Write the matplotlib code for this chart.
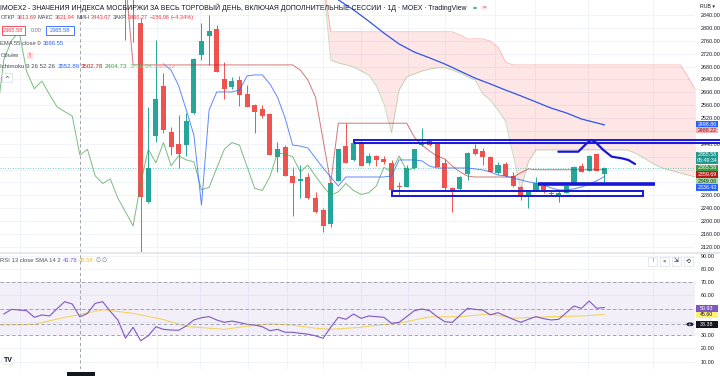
import numpy as np
import matplotlib
matplotlib.use("Agg")
import matplotlib.pyplot as plt
from matplotlib.patches import Rectangle, Circle

plt.rcParams['font.family'] = ['Liberation Sans', 'DejaVu Sans']

W, H = 720, 376

# ---------------- DATA ----------------
bar_index = list(range(-2, 62))
opens = [3000, 2940, 2816, 2258, 2465, 2620, 2478, 2439, 2436, 2535,
         2716, 2776, 2797, 2642, 2617, 2638, 2595, 2561, 2547, 2532,
         2400, 2431, 2341, 2325, 2336, 2271, 2235, 2190, 2326, 2433,
         2390, 2442, 2380, 2403, 2392, 2381, 2309, 2307, 2364, 2436,
         2452, 2440, 2380, 2302, 2299, 2346, 2423, 2418, 2400, 2348,
         2376, 2340, 2306, 2280, 2295, 2309, 2286, 2278, 2288, 2319,
         2371, 2357, 2408, 2346]
highs = [3050, 3000, 2830, 2554, 2762, 2660, 2492, 2530, 2537, 2707,
         2815, 2840, 2809, 2695, 2648, 2651, 2623, 2563, 2561, 2535,
         2447, 2436, 2369, 2374, 2348, 2291, 2241, 2320, 2425, 2504,
         2455, 2449, 2411, 2406, 2402, 2390, 2322, 2374, 2425, 2488,
         2455, 2442, 2392, 2306, 2340, 2415, 2440, 2428, 2402, 2385,
         2385, 2353, 2309, 2294, 2338, 2318, 2292, 2297, 2318, 2371,
         2381, 2405, 2412, 2368]
lows = [2762, 2756, 2080, 2256, 2446, 2474, 2405, 2365, 2402, 2533,
        2700, 2685, 2663, 2579, 2610, 2558, 2554, 2473, 2519, 2404,
        2353, 2340, 2216, 2271, 2270, 2225, 2167, 2183, 2324, 2380,
        2388, 2370, 2375, 2371, 2377, 2296, 2281, 2305, 2362, 2434,
        2434, 2368, 2297, 2229, 2297, 2328, 2405, 2374, 2352, 2346,
        2337, 2306, 2266, 2240, 2294, 2287, 2278, 2260, 2287, 2318,
        2353, 2356, 2356, 2319]
closes = [2950, 2990, 2275, 2366, 2579, 2483, 2430, 2408, 2512, 2702,
          2760, 2789, 2664, 2611, 2635, 2593, 2555, 2540, 2526, 2405,
          2423, 2341, 2317, 2331, 2271, 2229, 2185, 2317, 2423, 2381,
          2444, 2372, 2403, 2390, 2384, 2297, 2305, 2364, 2423, 2444,
          2436, 2369, 2302, 2295, 2338, 2412, 2408, 2400, 2353, 2374,
          2340, 2308, 2280, 2291, 2317, 2295, 2283, 2288, 2309, 2367,
          2353, 2402, 2357, 2365.58]

tenkan_index = list(range(3, 62))
tenkan = [2688, 2669, 2620, 2545, 2467, 2250, 2545, 2601, 2601, 2601,
          2607, 2651, 2654, 2654, 2626, 2585, 2520, 2436, 2433, 2427,
          2396, 2365, 2337, 2309, 2337, 2337, 2337, 2337, 2337, 2337,
          2340, 2390, 2390, 2390, 2387, 2371, 2365, 2365, 2365, 2365,
          2365, 2362, 2359, 2353, 2343, 2340, 2334, 2328, 2322, 2318,
          2312, 2303, 2297, 2297, 2300, 2306, 2315, 2325, 2338.43]

kijun_index = list(range(-2, 62))
kijun = [2950, 2685, 2685, 2685, 2685, 2685, 2685, 2685, 2685, 2685,
         2685, 2685, 2685, 2685, 2685, 2685, 2685, 2685, 2685, 2685,
         2685, 2685, 2685, 2669, 2638, 2585, 2452, 2318, 2504, 2504,
         2504, 2504, 2504, 2504, 2504, 2504, 2504, 2504, 2461, 2436,
         2418, 2402, 2393, 2371, 2353, 2340, 2337, 2337, 2337, 2337,
         2337, 2337, 2350, 2362, 2359.69, 2359.69, 2359.69, 2359.69, 2359.69, 2359.69,
         2359.69, 2359.69, 2359.69, 2359.69]

span_index = list(range(24, 75))
senkou_a = [2950, 2700, 2691, 2685, 2679, 2666, 2654, 2620, 2564, 2474,
            2607, 2648, 2657, 2666, 2672, 2676, 2676, 2669, 2660, 2648,
            2638, 2595, 2576, 2545, 2510, 2405, 2297, 2384, 2421, 2421,
            2421, 2421, 2421, 2421, 2421, 2421, 2421, 2421, 2421, 2421,
            2421, 2412, 2399, 2384, 2371, 2362, 2356, 2349, 2343, 2337,
            2332]
senkou_b = [2950, 2788, 2788, 2788, 2788, 2788, 2788, 2788, 2788, 2788,
            2788, 2788, 2788, 2788, 2788, 2788, 2788, 2788, 2778, 2766,
            2766, 2766, 2759, 2741, 2694, 2685, 2685, 2685, 2685, 2685,
            2685, 2685, 2685, 2685, 2685, 2685, 2685, 2685, 2685, 2685,
            2685, 2685, 2685, 2685, 2685, 2685, 2685, 2685, 2648, 2607,
            2580]
chikou_shift = 25

ema_index = [24, 26, 28, 30, 32, 34, 36, 38, 40, 42, 44, 46, 48, 50, 52, 54, 56, 58, 60, 61]
ema55 = [2933, 2887, 2856, 2821, 2784, 2750, 2725, 2707, 2688, 2666,
         2644, 2626, 2607, 2589, 2570, 2551, 2536, 2517, 2505, 2498.86]

rsi_index = list(range(-18, 62))
rsi = [46, 49.5, 49, 48.5, 43.5, 45.3, 44.5, 50, 55.3, 53.5,
       43.78, 46.5, 54, 55.3, 48, 41.5, 27.7, 36,
       25.8, 29.6, 36.4, 34.4, 33.9, 33.7, 37, 41.5, 43.2, 44,
       41.5, 39.7, 40.7, 39.5, 38.2, 37.7, 36.4, 33.4, 34.4, 32.2,
       32.2, 31.4, 30.8, 29.5, 27.7, 36, 43.5, 42, 46, 42.7,
       44.5, 44, 43.5, 39, 39.7, 44, 48.5, 49.8, 48.5, 44,
       40.2, 39.7, 45, 50.3, 49.5, 49, 45.3, 47, 44.5, 42,
       39.7, 42, 44, 42.5, 41.5, 42, 47, 52, 50.3, 55.8, 50.3, 50.93]
rsi_sma_index = [-19, -14, -10, -8, -5, -1, 3, 6, 11, 14, 17, 20, 23, 25, 29,
                 31, 34, 36, 38, 42, 46, 49, 54, 58, 61]
rsi_sma = [37.6, 38.2, 43.5, 45.58, 49.3, 46.5, 41.8, 36.6, 34.4, 36.8, 38.5,
           37.6, 35.3, 34.4, 36, 37.5, 39, 41.5, 43.8, 44, 46, 42.8, 44, 44.5, 45.6]

price_ticks = [2120, 2160, 2200, 2240, 2280, 2320, 2360, 2400, 2440, 2480,
               2520, 2560, 2600, 2640, 2680, 2720, 2760, 2800, 2840]
hidden_price_ticks = [2320, 2360, 2400, 2480]
rsi_ticks = [10, 20, 30, 40, 50, 60, 70, 80, 90]
hidden_rsi_ticks = [40, 50]
time_grid = [-15.9, 2.1, 7.8, 14.1, 19.3, 24, 29, 35.2, 40, 46.6, 51.9, 58.9, 67.4]
crosshair_bar = -8
crosshair_rsi = 38.38

# ---------------- FIGURE ----------------
UP, DOWN = '#26a69a', '#ef5350'
BLUE_DRAW = '#1717d6'
TXT = '#131722'
GRID = '#f0f3fa'

fig = plt.figure(figsize=(W / 100, H / 100), dpi=100)
fig.patch.set_facecolor('white')
ax = fig.add_axes([0, 1 - 252 / H, 695 / W, 252 / H])
ax2 = fig.add_axes([0, 1 - 369 / H, 695 / W, (369 - 253) / H])
XMIN, XMAX = -18.51, 72.93

for a in (ax, ax2):
    a.set_xlim(XMIN, XMAX)
    a.set_facecolor('white')
    for s in a.spines.values():
        s.set_visible(False)
    a.set_xticks([])
    a.yaxis.tick_right()
    a.tick_params(axis='y', length=0, pad=4, labelsize=3.9, labelcolor=TXT)
    for g in time_grid:
        a.axvline(g, color=GRID, lw=0.7, zorder=0)
    a.axvline(crosshair_bar, color='#9598a1', lw=0.6, ls=(0, (4, 3)), zorder=6)

ax.set_ylim(2104.1, 2886.6)
ax.set_yticks(price_ticks)
ax.set_yticklabels(['' if t in hidden_price_ticks else f'{t:.2f}' for t in price_ticks])
for t in price_ticks:
    ax.axhline(t, color=GRID, lw=0.7, zorder=0)

# cloud
ax.fill_between(span_index, senkou_a, senkou_b, color='#f44336', alpha=0.13, lw=0, zorder=1)
ax.plot(span_index, senkou_a, color='#43a047', alpha=0.35, lw=0.6, zorder=1.5)
ax.plot(span_index, senkou_b, color='#f44336', alpha=0.35, lw=0.6, zorder=1.5)

# candles
cols = [UP if c >= o else DOWN for o, c in zip(opens, closes)]
ax.vlines(bar_index, lows, highs, colors=cols, lw=0.7, zorder=3)
body_h = [max(abs(c - o), 2.5) for o, c in zip(opens, closes)]
body_b = [min(o, c) for o, c in zip(opens, closes)]
ax.bar(bar_index, body_h, bottom=body_b, width=0.68, color=cols, lw=0, zorder=3.1)

# indicator lines
chikou_x = [b - chikou_shift for b in bar_index]
ax.plot(chikou_x, closes, color='#43a047', alpha=0.7, lw=0.7, zorder=3.5)
ax.plot(kijun_index, kijun, color='#b71c1c', alpha=0.6, lw=0.7, zorder=3.5)
ax.plot(tenkan_index, tenkan, color='#2962ff', alpha=0.75, lw=0.7, zorder=3.5)
ax.plot(ema_index, ema55, color='#2f54eb', lw=0.9, zorder=3.6)
ax.axhline(closes[-1], color='#26a69a', lw=0.6, ls=(0, (1, 2)), alpha=0.8, zorder=2.5)

# user drawings
ax.add_patch(Rectangle((28.1, 2442.5), 76.5 - 28.1, 9.4, fc='none', ec=BLUE_DRAW,
                       lw=1.4, clip_on=False, zorder=5))
ax.add_patch(Rectangle((33.0, 2278.0), 33.1, 16.5, fc='none', ec=BLUE_DRAW, lw=1.4, zorder=5))
ax.plot([52.3, 67.7], [2314.4, 2314.4], color=BLUE_DRAW, lw=2.6, solid_capstyle='butt', zorder=5)
path_x = [54.95, 57.58, 58.68, 59.25, 59.78, 60.87, 61.97, 63.29, 64.16, 65.04]
path_y = [2415.6, 2415.6, 2441.6, 2451.9, 2446.6, 2420.9, 2400.1, 2395.1, 2389.8, 2377.4]
ax.plot(path_x, path_y, color=BLUE_DRAW, lw=1.6, zorder=5, solid_capstyle='round')

# RSI pane
ax2.set_ylim(4.49, 92.04)
ax2.set_yticks(rsi_ticks)
ax2.set_yticklabels(['' if t in hidden_rsi_ticks else f'{t:.2f}' for t in rsi_ticks])
for t in rsi_ticks:
    ax2.axhline(t, color=GRID, lw=0.7, zorder=0)
ax2.axhspan(30, 70, color='#7e57c2', alpha=0.09, lw=0, zorder=0.5)
for lv in (70, 50, 30):
    ax2.axhline(lv, color='#9598a1', lw=0.6, ls=(0, (4, 3)), zorder=1)
ax2.axhline(crosshair_rsi, color='#9598a1', lw=0.6, ls=(0, (4, 3)), zorder=6)
ax2.plot(rsi_sma_index, rsi_sma, color='#f3cf45', lw=0.8, alpha=0.85, zorder=2)
ax2.plot(rsi_index, rsi, color='#7e57c2', lw=0.8, zorder=3)

# pane separators
fig.add_artist(plt.Line2D([0, 1], [1 - 252.5 / H] * 2, transform=fig.transFigure,
                          color='#e0e3eb', lw=1.2))

# ---------------- TEXT / UI ----------------
fig.canvas.draw()
R = fig.canvas.get_renderer()


def txt(x, y, s, size, color=TXT, ha='left', **kw):
    return fig.text(x / W, 1 - y / H, s, fontsize=size, color=color, ha=ha, va='center', **kw)


def width_of(s, size, **kw):
    t = fig.text(0, 0, s, fontsize=size, **kw)
    w = t.get_window_extent(R).width
    t.remove()
    return w


def fit(s, target, **kw):
    return 10 * target / width_of(s, 10, **kw)


def rich(x0, x1, y, parts):
    full = ' '.join(p for p, _ in parts)
    size = fit(full, x1 - x0)
    sp = width_of('a a', size) - width_of('aa', size)
    x = x0
    for s, c in parts:
        t = txt(x, y, s, size, c)
        x = t.get_window_extent(R).x1 + sp
    return size


def fbox(x0, y0, x1, y1, fc, ec='none', lw=0.6, z=10):
    fig.add_artist(Rectangle((x0 / W, 1 - y1 / H), (x1 - x0) / W, (y1 - y0) / H,
                             transform=fig.transFigure, fc=fc, ec=ec, lw=lw, zorder=z))


RED = '#f23645'
title = ('IMOEX2 - ЗНАЧЕНИЯ ИНДЕКСА МОСБИРЖИ ЗА ВЕСЬ ТОРГОВЫЙ ДЕНЬ, ВКЛЮЧАЯ '
         'ДОПОЛНИТЕЛЬНЫЕ СЕССИИ · 1Д · MOEX · TradingView')
txt(0.5, 8, title, fit(title, 461), TXT)
fig.add_artist(Circle((475 / W, 1 - 8 / H), 3.2 / W, transform=fig.transFigure,
                      fc='#e8f5e9', ec='none', zorder=10))
fig.add_artist(Circle((475 / W, 1 - 8 / H), 1.6 / W, transform=fig.transFigure,
                      fc='#089981', ec='none', zorder=11))
fig.add_artist(Circle((484 / W, 1 - 8 / H), 3.6 / W, transform=fig.transFigure,
                      fc='#fce4ec', ec='none', zorder=10))
txt(484, 8, '=', 4.5, '#e91e63', ha='center', zorder=12)

rich(0.5, 193, 17.5, [('ОТКР', '#4a4e59'), ('3613.69', RED), ('МАКС', '#4a4e59'), ('3621.94', RED),
                      ('МИН', '#4a4e59'), ('3443.07', RED), ('ЗАКР', '#4a4e59'), ('3460.27', RED),
                      ('−156.96', RED), ('(−4.34%)', RED)])

fbox(1.7, 26, 25, 35, 'white', RED, 0.6)
txt(13.3, 30.5, f'{closes[-1]:.2f}', 4.1, RED, ha='center', zorder=12)
txt(36, 30.5, '0.00', 4.0, '#787b86', ha='center')
fbox(45.7, 26, 74, 35, 'white', '#2962ff', 0.6)
txt(59.8, 30.5, f'{closes[-1]:.2f}', 4.1, '#2962ff', ha='center', zorder=12)

rich(0.5, 65, 43.7, [('EMA 55 close 0', '#4a4e59'), ('3666.55', '#2962ff')])
txt(0.5, 55.7, 'Объём', fit('Объём', 18), '#4a4e59')
fbox(27, 52, 32.5, 59, '#fde0e0')
txt(29.7, 55.5, '!', 4.2, RED, ha='center', zorder=12, fontweight='bold')
rich(0.5, 177, 66, [('Ichimoku 9 26 52 26', '#4a4e59'), ('3552.89', '#2962ff'), ('3502.78', '#b71c1c'),
                    ('2404.73', '#43a047'), ('3739.34', '#81c784'), ('3805.12', '#ef9a9a')])
fbox(2, 73, 12, 82, 'white', '#e0e3eb', 0.6)
txt(7, 78.5, '^', 4.5, TXT, ha='center', zorder=12)

rich(0.5, 108, 260.7, [('RSI 13 close SMA 14 2', '#4a4e59'), ('43.78', '#7e57c2'),
                       ('45.58', '#e6c229'), ('∅', '#787b86'), ('∅', '#787b86')])

txt(700, 6, 'RUB ▾', 3.8, TXT)

# right-side value labels
def plabel(yc, s, bg, fg, h=6.4):
    fbox(696, yc - h / 2, 718, yc + h / 2, bg)
    txt(707, yc, s, 3.8, fg, ha='center', zorder=12)


plabel(124.0, f'{ema55[-1]:.2f}', '#2962ff', 'white', h=6.0)
plabel(130.2, '2488.22', '#f6b2b2', '#7f1d1d', h=6.0)
fbox(696, 151.7, 718, 164.3, '#22998e')
txt(707, 155, f'{closes[-1]:.2f}', 3.8, 'white', ha='center', zorder=12)
txt(707, 161, '05:49:34', 3.8, 'white', ha='center', zorder=12)
plabel(167.8, f'{closes[-1]:.2f}', '#3d9a41', 'white')
plabel(174.4, f'{kijun[-1]:.2f}', '#b71c1c', 'white')
plabel(181.0, '2349.06', '#a5d6a7', '#1b3d1d')
plabel(187.6, f'{tenkan[-1]:.2f}', '#2962ff', 'white')

plabel(308.3, f'{rsi[-1]:.2f}', '#7e57c2', 'white')
plabel(315.0, f'{rsi_sma[-1]:.2f}', '#fff176', TXT)
plabel(324.3, f'{crosshair_rsi:.2f}', '#131722', 'white')
fig.add_artist(Circle((690 / W, 1 - 324.3 / H), 3.6 / W, transform=fig.transFigure,
                      fc='#131722', ec='none', zorder=10))
txt(690, 324.3, '+', 4.5, 'white', ha='center', zorder=12)

for cx, g in zip([652.7, 664, 676, 688.3], ['↑', '×', '⇲', '⟲']):
    fbox(cx - 4.5, 256.5, cx + 4.5, 265.5, 'white', '#e0e3eb', 0.6)
    txt(cx, 261, g, 4.2, TXT, ha='center', zorder=12)

# TradingView logo and crosshair time label
fig.add_artist(Circle((8 / W, 1 - 361 / H), 6.5 / W, transform=fig.transFigure,
                      fc='white', ec='#e0e3eb', lw=0.5, zorder=10))
txt(8, 361, 'TV', 5, TXT, ha='center', fontweight='bold', zorder=12)
fbox(67, 371.5, 95, 377, '#131722')

fig.savefig('out.png', dpi=100, facecolor='white')
